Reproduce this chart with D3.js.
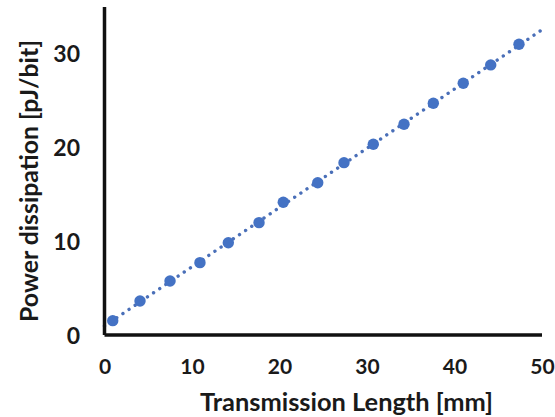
<!DOCTYPE html>
<html><head><meta charset="utf-8">
<script src="https://cdn.jsdelivr.net/npm/d3@7"></script>
<style>
html,body{margin:0;padding:0;background:#fff;}
text{font-family:Lato,"Open Sans",sans-serif;font-weight:700;fill:#1a1a1a;}
</style></head>
<body><svg id="chart" width="555" height="417"></svg>
<script>
// Data
const lengthMM = [0.94, 4.06, 7.49, 10.91, 14.15, 17.66, 20.43, 24.37, 27.37, 30.72, 34.23, 37.58, 41.0, 44.14, 47.37];
const powerPJ  = [1.53, 3.63, 5.76, 7.72, 9.85, 11.99, 14.16, 16.25, 18.39, 20.35, 22.49, 24.73, 26.86, 28.82, 31.02];
const xTicks = [0, 10, 20, 30, 40, 50];
const yTicks = [0, 10, 20, 30];
const xTitle = "Transmission Length [mm]";
const yTitle = "Power dissipation [pJ/bit]";

const svg = d3.select("#chart");
const x = d3.scaleLinear().domain([0, 50]).range([104.5, 542]);
const y = d3.scaleLinear().domain([0, 35]).range([335, 7]);
const blue = "#4472C4";

// linear trendline (least squares from the data)
const n = lengthMM.length;
const mx = d3.mean(lengthMM), my = d3.mean(powerPJ);
let sxy = 0, sxx = 0;
for (let i = 0; i < n; i++) { sxy += (lengthMM[i]-mx)*(powerPJ[i]-my); sxx += (lengthMM[i]-mx)**2; }
const slope = sxy / sxx, icpt = my - slope * mx;
const trend = [0, 50].map(v => [v, icpt + slope * v]);
svg.append("path")
  .attr("d", d3.line().x(d => x(d[0])).y(d => y(d[1]))(trend))
  .attr("fill", "none").attr("stroke", "#4a6fb8").attr("stroke-width", 3.4)
  .attr("stroke-linecap", "round").attr("stroke-dasharray", "0.01 7.4");

// markers
svg.append("g").selectAll("circle").data(lengthMM).join("circle")
  .attr("cx", d => x(d)).attr("cy", (d, i) => y(powerPJ[i]))
  .attr("r", 5.7).attr("fill", blue);

// axes
const xAxis = d3.axisBottom(x).tickValues(xTicks).tickSize(0).tickPadding(0).tickFormat(d3.format("d"));
const gx = svg.append("g").attr("transform", `translate(0,${y(0)})`).call(xAxis);
gx.select(".domain").attr("stroke", "#111").attr("stroke-width", 3.5).attr("d", `M${x(0)},0H${x(50)}`);
gx.selectAll(".tick text").attr("y", 0).attr("dy", 0).attr("transform", "translate(0,39)")
  .attr("font-size", 21).attr("font-family", "Lato").attr("font-weight", 700).attr("fill", "#1a1a1a");

const yAxis = d3.axisLeft(y).tickValues(yTicks).tickSize(0).tickPadding(0).tickFormat(d3.format("d"));
const gy = svg.append("g").attr("transform", `translate(${x(0)},0)`).call(yAxis);
gy.select(".domain").attr("stroke", "#111").attr("stroke-width", 3.5).attr("d", `M0,${y(35)}V${y(0)}`);
gy.selectAll(".tick text").attr("x", 80 - x(0)).attr("dy", "0.35em")
  .attr("font-size", 23).attr("font-family", "Lato").attr("font-weight", 700).attr("fill", "#1a1a1a");

// titles, font size fitted to the widths seen in the reference
function fit(sel, target) {
  const len = sel.node().getComputedTextLength();
  sel.attr("font-size", 22 * target / len);
}
const tx = svg.append("text").attr("x", 346.5).attr("y", 411).attr("text-anchor", "middle")
  .attr("font-size", 22).text(xTitle);
fit(tx, 293);
const ty = svg.append("text").attr("transform", "translate(38,181) rotate(-90)").attr("text-anchor", "middle")
  .attr("font-size", 22).text(yTitle);
fit(ty, 282);
</script></body></html>
